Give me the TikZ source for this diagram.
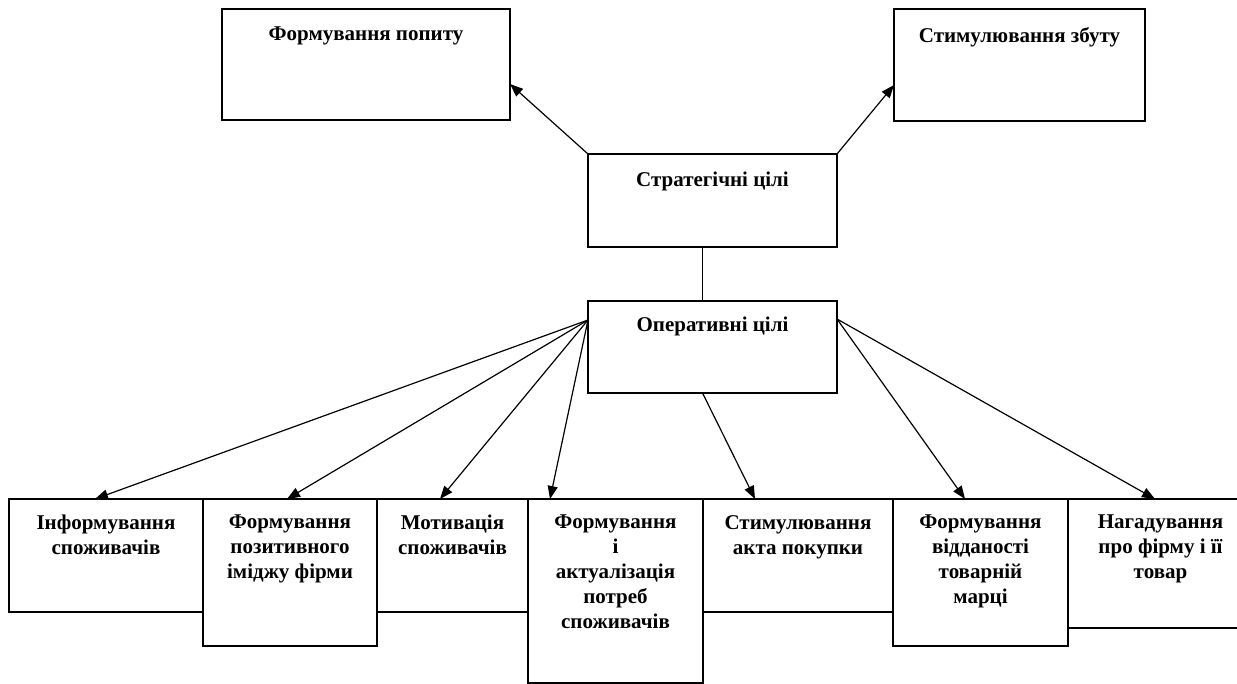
\documentclass[tikz,border=0pt]{standalone}
\usepackage{fontspec}
\setmainfont{Liberation Serif}
\usetikzlibrary{arrows.meta,calc}
\tikzset{
  box/.style={draw=black, line width=1.3pt, rectangle, inner sep=0pt, outer sep=0pt, anchor=north west},
  lbl/.style={anchor=north, inner sep=0pt, align=center, font=\fontsize{21}{25}\selectfont\bfseries},
  arr/.style={line width=1.2pt, -{Triangle[length=13pt,width=10pt]}},
  ln/.style={line width=1.2pt}
}
\begin{document}
\begin{tikzpicture}[x=1pt,y=-1pt]
\useasboundingbox[fill=white] (0,0) rectangle (1237,684);
% top boxes
\node[box, minimum width=288pt, minimum height=111pt] (tl) at (222,9) {};
\node[box, minimum width=251pt, minimum height=112pt] (tr) at (894,9) {};
\node[box, minimum width=249pt, minimum height=93pt] (st) at (588,154) {};
\node[box, minimum width=249pt, minimum height=92pt] (op) at (588,301) {};
% bottom boxes
\node[box, minimum width=194pt, minimum height=113pt] (b1) at (9,499) {};
\node[box, minimum width=174pt, minimum height=147pt] (b2) at (203,499) {};
\node[box, minimum width=151pt, minimum height=113pt] (b3) at (377,499) {};
\node[box, minimum width=175pt, minimum height=184pt] (b4) at (528,499) {};
\node[box, minimum width=190pt, minimum height=113pt] (b5) at (703,499) {};
\node[box, minimum width=175pt, minimum height=147pt] (b6) at (893,499) {};
\node[box, minimum width=185pt, minimum height=129pt] (b7) at (1068,499) {};
% labels
\node[lbl] (ttl) at ([yshift=-18pt]tl.north) {Формування попиту};
\node[lbl] (ttr) at ([yshift=-18pt]tr.north) {Стимулювання збуту};
\node[lbl] (tst) at ([yshift=-18pt]st.north) {Стратегічні цілі};
\node[lbl] (top) at ([yshift=-16pt]op.north) {Оперативні цілі};
\node[lbl] (t1) at ([yshift=-16pt]b1.north) {Інформування\\споживачів};
\node[lbl] (t2) at ([yshift=-16pt]b2.north) {Формування\\позитивного\\іміджу фірми};
\node[lbl] (t3) at ([yshift=-16pt]b3.north) {Мотивація\\споживачів};
\node[lbl] (t4) at ([yshift=-16pt]b4.north) {Формування\\і\\актуалізація\\потреб\\споживачів};
\node[lbl] (t5) at ([yshift=-16pt]b5.north) {Стимулювання\\акта покупки};
\node[lbl] (t6) at ([yshift=-16pt]b6.north) {Формування\\відданості\\товарній\\марці};
\node[lbl] (t7) at ([yshift=-16pt]b7.north) {Нагадування\\про фірму і її\\товар};
% connectors
\draw[arr] (st.north west) -- ([yshift=36pt]tl.south east);
\draw[arr] (st.north east) -- ([yshift=36pt]tr.south west);
\draw[ln] ([xshift=-10pt]st.south) -- ([xshift=-10pt]op.north);
\draw[arr] ([yshift=-19pt]op.north west) -- ([xshift=86pt]b1.north west);
\draw[arr] ([yshift=-19pt]op.north west) -- ([xshift=84pt]b2.north west);
\draw[arr] ([yshift=-19pt]op.north west) -- ([xshift=63pt]b3.north west);
\draw[arr] ([yshift=-19pt]op.north west) -- ([xshift=22pt]b4.north west);
\draw[arr] ([xshift=-10pt]op.south) -- ([xshift=52pt]b5.north west);
\draw[arr] ([yshift=-18pt]op.north east) -- ([xshift=72pt]b6.north west);
\draw[arr] ([yshift=-18pt]op.north east) -- ([xshift=87pt]b7.north west);
\end{tikzpicture}
\end{document}
